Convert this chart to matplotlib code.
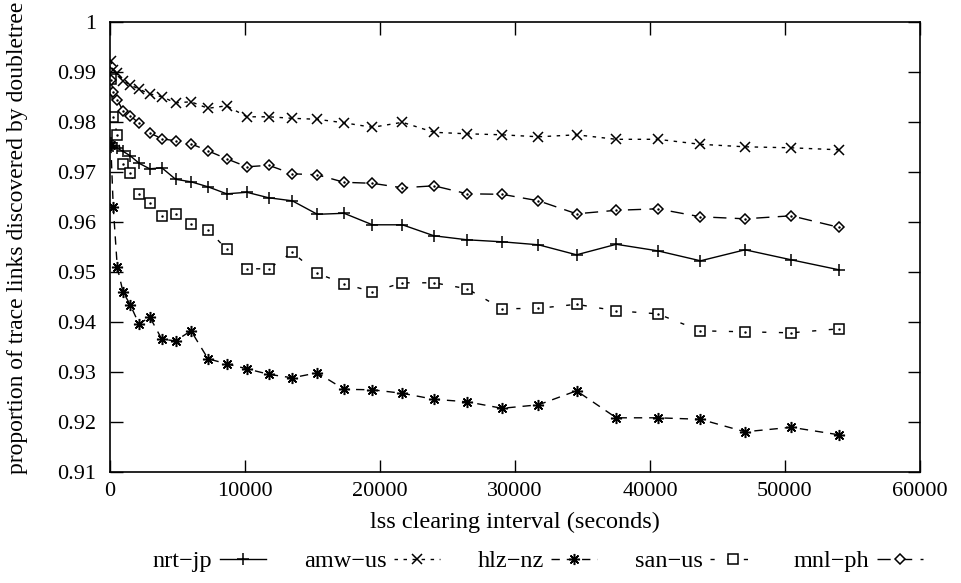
import matplotlib
matplotlib.use("Agg")

import matplotlib.pyplot as plt
from matplotlib.ticker import FormatStrFormatter

# =========================
# DANE
# =========================
interval = [60, 240, 540, 960, 1500, 2160, 2940, 3840, 4860, 6000,
            7260, 8640, 10140, 11760, 13500, 15360, 17340, 19440, 21660, 24000,
            26460, 29040, 31740, 34560, 37500, 40560, 43740, 47040, 50460, 54000]

nrt_jp = [0.9758, 0.9753, 0.9748, 0.9742, 0.9733, 0.9718, 0.9707, 0.9709, 0.9686, 0.9681,
          0.9671, 0.9657, 0.9660, 0.9649, 0.9643, 0.9616, 0.9618, 0.9595, 0.9595, 0.9573,
          0.9565, 0.9561, 0.9555, 0.9535, 0.9556, 0.9543, 0.9523, 0.9545, 0.9525, 0.9505]

amw_us = [0.9923, 0.9905, 0.9899, 0.9883, 0.9875, 0.9866, 0.9857, 0.9851, 0.9839, 0.9841,
          0.9828, 0.9833, 0.9811, 0.9811, 0.9808, 0.9806, 0.9799, 0.9790, 0.9800, 0.9780,
          0.9777, 0.9775, 0.9771, 0.9775, 0.9766, 0.9766, 0.9756, 0.9751, 0.9749, 0.9745]

hlz_nz = [0.9755, 0.9631, 0.9510, 0.9461, 0.9435, 0.9396, 0.9411, 0.9366, 0.9363, 0.9383,
          0.9327, 0.9317, 0.9307, 0.9296, 0.9289, 0.9299, 0.9266, 0.9265, 0.9258, 0.9246,
          0.9241, 0.9228, 0.9235, 0.9263, 0.9209, 0.9209, 0.9206, 0.9181, 0.9190, 0.9175]

san_us = [0.9887, 0.9811, 0.9775, 0.9716, 0.9698, 0.9656, 0.9639, 0.9613, 0.9616, 0.9596,
          0.9585, 0.9546, 0.9507, 0.9507, 0.9540, 0.9498, 0.9477, 0.9461, 0.9479, 0.9479,
          0.9467, 0.9427, 0.9428, 0.9436, 0.9423, 0.9417, 0.9383, 0.9381, 0.9379, 0.9387]

mnl_ph = [0.9885, 0.9861, 0.9845, 0.9823, 0.9813, 0.9798, 0.9779, 0.9767, 0.9763, 0.9757,
          0.9743, 0.9727, 0.9711, 0.9714, 0.9697, 0.9695, 0.9680, 0.9678, 0.9669, 0.9673,
          0.9657, 0.9656, 0.9643, 0.9617, 0.9624, 0.9627, 0.9611, 0.9607, 0.9613, 0.9590]

x_ticks = [0, 10000, 20000, 30000, 40000, 50000, 60000]
y_ticks = [0.91, 0.92, 0.93, 0.94, 0.95, 0.96, 0.97, 0.98, 0.99, 1.0]

# =========================
# STYL
# =========================
plt.rcParams["font.family"] = ["Liberation Serif", "DejaVu Serif"]
plt.rcParams["font.size"] = 16

fig = plt.figure(figsize=(9.61, 5.83), dpi=100)
ax = fig.add_axes([110 / 961, 1 - 472.3 / 583, 810 / 961, 450 / 583])

series = [
    ("nrt\u2212jp", nrt_jp, "-", "+", 8, False),
    ("amw\u2212us", amw_us, (0, (2.5, 4)), "x", 6.5, False),
    ("hlz\u2212nz", hlz_nz, (0, (6, 5)), (8, 2, 0), 8, False),
    ("san\u2212us", san_us, (0, (3, 9)), "s", 7, True),
    ("mnl\u2212ph", mnl_ph, (0, (9.5, 6)), "D", 5.5, True),
]

for name, vals, ls, mk, ms, dot in series:
    ax.plot(interval, vals, color="black", linestyle=ls, linewidth=1.0,
            marker=mk, markersize=ms, markerfacecolor="white",
            markeredgecolor="black", markeredgewidth=1.1, label=name)
    if dot:
        ax.plot(interval, vals, linestyle="none", marker=".", markersize=1.5,
                color="black")

ax.set_xlim(0, 60000)
ax.set_ylim(0.91, 1.0)
ax.set_xticks(x_ticks)
ax.set_yticks(y_ticks)
ax.yaxis.set_major_formatter(FormatStrFormatter("%g"))
ax.xaxis.set_major_formatter(FormatStrFormatter("%d"))
ax.tick_params(direction="in", length=9, width=1, top=True, right=True)
ax.tick_params(axis="y", pad=10)
ax.tick_params(axis="x", pad=7)
for sp in ax.spines.values():
    sp.set_linewidth(1.2)

ax.set_xlabel("lss clearing interval (seconds)", fontsize=17.5, labelpad=8)
ax.set_ylabel("proportion of trace links discovered by doubletree", fontsize=17)
ax.yaxis.set_label_coords(-0.101, 0.52)

fig.legend(loc="center", bbox_to_anchor=(538 / 961, 1 - 561 / 583), ncol=5,
           frameon=False, markerfirst=False, handlelength=1.9, handletextpad=0.3,
           columnspacing=1.55, numpoints=1, fontsize=17.5)

fig.savefig("out.png", dpi=100)
